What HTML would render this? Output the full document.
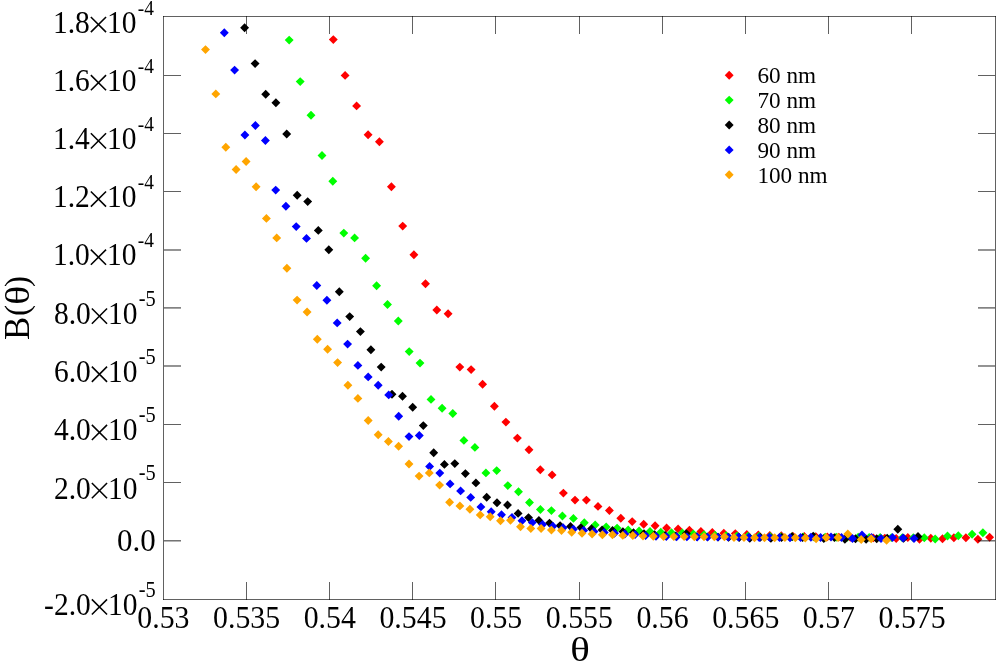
<!DOCTYPE html>
<html><head><meta charset="utf-8"><title>B(theta)</title>
<style>html,body{margin:0;padding:0;background:#fff;}svg{display:block;}body{font-family:"Liberation Serif",serif;}</style>
</head><body>
<svg width="999" height="663" viewBox="0 0 999 663">
<rect x="0" y="0" width="999" height="663" fill="#fff"/>
<path fill="#ff0000" d="M328.85 39.60L333.30 35.15L337.75 39.60L333.30 44.05ZM340.65 75.40L345.10 70.95L349.55 75.40L345.10 79.85ZM352.15 105.90L356.60 101.45L361.05 105.90L356.60 110.35ZM363.65 134.70L368.10 130.25L372.55 134.70L368.10 139.15ZM374.95 141.80L379.40 137.35L383.85 141.80L379.40 146.25ZM386.95 186.80L391.40 182.35L395.85 186.80L391.40 191.25ZM398.25 226.10L402.70 221.65L407.15 226.10L402.70 230.55ZM409.45 254.70L413.90 250.25L418.35 254.70L413.90 259.15ZM421.05 283.70L425.50 279.25L429.95 283.70L425.50 288.15ZM432.35 310.00L436.80 305.55L441.25 310.00L436.80 314.45ZM443.65 313.80L448.10 309.35L452.55 313.80L448.10 318.25ZM455.35 367.10L459.80 362.65L464.25 367.10L459.80 371.55ZM466.65 369.60L471.10 365.15L475.55 369.60L471.10 374.05ZM478.15 384.20L482.60 379.75L487.05 384.20L482.60 388.65ZM489.95 406.20L494.40 401.75L498.85 406.20L494.40 410.65ZM501.45 422.10L505.90 417.65L510.35 422.10L505.90 426.55ZM512.95 438.10L517.40 433.65L521.85 438.10L517.40 442.55ZM524.55 449.80L529.00 445.35L533.45 449.80L529.00 454.25ZM535.85 469.80L540.30 465.35L544.75 469.80L540.30 474.25ZM547.65 474.90L552.10 470.45L556.55 474.90L552.10 479.35ZM558.95 493.10L563.40 488.65L567.85 493.10L563.40 497.55ZM570.55 500.10L575.00 495.65L579.45 500.10L575.00 504.55ZM581.95 500.10L586.40 495.65L590.85 500.10L586.40 504.55ZM593.55 506.40L598.00 501.95L602.45 506.40L598.00 510.85ZM604.95 510.50L609.40 506.05L613.85 510.50L609.40 514.95ZM616.35 518.30L620.80 513.85L625.25 518.30L620.80 522.75ZM627.75 521.60L632.20 517.15L636.65 521.60L632.20 526.05ZM639.25 524.30L643.70 519.85L648.15 524.30L643.70 528.75ZM650.65 525.70L655.10 521.25L659.55 525.70L655.10 530.15ZM662.15 528.00L666.60 523.55L671.05 528.00L666.60 532.45ZM673.65 528.90L678.10 524.45L682.55 528.90L678.10 533.35ZM684.95 530.30L689.40 525.85L693.85 530.30L689.40 534.75ZM696.45 531.50L700.90 527.05L705.35 531.50L700.90 535.95ZM707.85 532.50L712.30 528.05L716.75 532.50L712.30 536.95ZM719.35 533.20L723.80 528.75L728.25 533.20L723.80 537.65ZM730.85 533.60L735.30 529.15L739.75 533.60L735.30 538.05ZM742.35 534.40L746.80 529.95L751.25 534.40L746.80 538.85ZM753.85 535.00L758.30 530.55L762.75 535.00L758.30 539.45ZM765.35 535.50L769.80 531.05L774.25 535.50L769.80 539.95ZM776.85 535.80L781.30 531.35L785.75 535.80L781.30 540.25ZM788.35 536.10L792.80 531.65L797.25 536.10L792.80 540.55ZM799.85 536.40L804.30 531.95L808.75 536.40L804.30 540.85ZM811.35 536.60L815.80 532.15L820.25 536.60L815.80 541.05ZM822.85 536.90L827.30 532.45L831.75 536.90L827.30 541.35ZM834.35 537.10L838.80 532.65L843.25 537.10L838.80 541.55ZM845.85 537.40L850.30 532.95L854.75 537.40L850.30 541.85ZM857.35 537.60L861.80 533.15L866.25 537.60L861.80 542.05ZM868.85 537.90L873.30 533.45L877.75 537.90L873.30 542.35ZM880.35 538.10L884.80 533.65L889.25 538.10L884.80 542.55ZM891.75 538.50L896.20 534.05L900.65 538.50L896.20 542.95ZM903.35 537.50L907.80 533.05L912.25 537.50L907.80 541.95ZM915.05 539.30L919.50 534.85L923.95 539.30L919.50 543.75ZM926.35 538.20L930.80 533.75L935.25 538.20L930.80 542.65ZM938.05 538.70L942.50 534.25L946.95 538.70L942.50 543.15ZM949.45 537.80L953.90 533.35L958.35 537.80L953.90 542.25ZM961.45 537.80L965.90 533.35L970.35 537.80L965.90 542.25ZM973.45 539.30L977.90 534.85L982.35 539.30L977.90 543.75ZM985.15 537.20L989.60 532.75L994.05 537.20L989.60 541.65Z"/>
<path fill="#00ff00" d="M284.75 40.10L289.20 35.65L293.65 40.10L289.20 44.55ZM295.75 81.60L300.20 77.15L304.65 81.60L300.20 86.05ZM306.55 115.20L311.00 110.75L315.45 115.20L311.00 119.65ZM317.55 155.50L322.00 151.05L326.45 155.50L322.00 159.95ZM328.35 181.30L332.80 176.85L337.25 181.30L332.80 185.75ZM339.35 233.10L343.80 228.65L348.25 233.10L343.80 237.55ZM350.15 237.90L354.60 233.45L359.05 237.90L354.60 242.35ZM361.15 258.20L365.60 253.75L370.05 258.20L365.60 262.65ZM372.15 285.80L376.60 281.35L381.05 285.80L376.60 290.25ZM383.05 304.50L387.50 300.05L391.95 304.50L387.50 308.95ZM393.85 321.00L398.30 316.55L402.75 321.00L398.30 325.45ZM404.75 351.60L409.20 347.15L413.65 351.60L409.20 356.05ZM415.55 363.10L420.00 358.65L424.45 363.10L420.00 367.55ZM426.55 399.40L431.00 394.95L435.45 399.40L431.00 403.85ZM437.65 408.20L442.10 403.75L446.55 408.20L442.10 412.65ZM448.35 413.50L452.80 409.05L457.25 413.50L452.80 417.95ZM459.45 440.40L463.90 435.95L468.35 440.40L463.90 444.85ZM470.45 447.40L474.90 442.95L479.35 447.40L474.90 451.85ZM481.45 472.90L485.90 468.45L490.35 472.90L485.90 477.35ZM492.25 470.60L496.70 466.15L501.15 470.60L496.70 475.05ZM503.35 485.60L507.80 481.15L512.25 485.60L507.80 490.05ZM514.05 491.70L518.50 487.25L522.95 491.70L518.50 496.15ZM525.05 502.50L529.50 498.05L533.95 502.50L529.50 506.95ZM535.95 509.50L540.40 505.05L544.85 509.50L540.40 513.95ZM546.95 510.60L551.40 506.15L555.85 510.60L551.40 515.05ZM557.95 516.00L562.40 511.55L566.85 516.00L562.40 520.45ZM568.95 518.40L573.40 513.95L577.85 518.40L573.40 522.85ZM579.85 522.70L584.30 518.25L588.75 522.70L584.30 527.15ZM590.75 524.90L595.20 520.45L599.65 524.90L595.20 529.35ZM601.75 527.00L606.20 522.55L610.65 527.00L606.20 531.45ZM612.65 528.10L617.10 523.65L621.55 528.10L617.10 532.55ZM623.75 529.90L628.20 525.45L632.65 529.90L628.20 534.35ZM634.65 530.90L639.10 526.45L643.55 530.90L639.10 535.35ZM645.55 531.50L650.00 527.05L654.45 531.50L650.00 535.95ZM656.35 532.30L660.80 527.85L665.25 532.30L660.80 536.75ZM667.05 532.80L671.50 528.35L675.95 532.80L671.50 537.25ZM677.85 532.90L682.30 528.45L686.75 532.90L682.30 537.35ZM688.85 534.00L693.30 529.55L697.75 534.00L693.30 538.45ZM699.55 534.80L704.00 530.35L708.45 534.80L704.00 539.25ZM710.55 535.20L715.00 530.75L719.45 535.20L715.00 539.65ZM721.55 535.60L726.00 531.15L730.45 535.60L726.00 540.05ZM732.55 535.90L737.00 531.45L741.45 535.90L737.00 540.35ZM743.55 536.10L748.00 531.65L752.45 536.10L748.00 540.55ZM754.65 536.30L759.10 531.85L763.55 536.30L759.10 540.75ZM765.65 536.50L770.10 532.05L774.55 536.50L770.10 540.95ZM776.65 536.70L781.10 532.25L785.55 536.70L781.10 541.15ZM787.65 536.80L792.10 532.35L796.55 536.80L792.10 541.25ZM798.65 536.90L803.10 532.45L807.55 536.90L803.10 541.35ZM809.65 537.00L814.10 532.55L818.55 537.00L814.10 541.45ZM820.75 537.10L825.20 532.65L829.65 537.10L825.20 541.55ZM831.75 537.20L836.20 532.75L840.65 537.20L836.20 541.65ZM842.75 537.30L847.20 532.85L851.65 537.30L847.20 541.75ZM853.75 537.30L858.20 532.85L862.65 537.30L858.20 541.75ZM864.75 537.40L869.20 532.95L873.65 537.40L869.20 541.85ZM875.75 537.50L880.20 533.05L884.65 537.50L880.20 541.95ZM886.85 537.60L891.30 533.15L895.75 537.60L891.30 542.05ZM897.85 537.70L902.30 533.25L906.75 537.70L902.30 542.15ZM908.85 537.80L913.30 533.35L917.75 537.80L913.30 542.25ZM919.85 537.80L924.30 533.35L928.75 537.80L924.30 542.25ZM930.75 539.00L935.20 534.55L939.65 539.00L935.20 543.45ZM943.05 536.00L947.50 531.55L951.95 536.00L947.50 540.45ZM953.85 535.70L958.30 531.25L962.75 535.70L958.30 540.15ZM967.65 534.30L972.10 529.85L976.55 534.30L972.10 538.75ZM978.45 532.80L982.90 528.35L987.35 532.80L982.90 537.25Z"/>
<path fill="#000000" d="M240.15 27.80L244.60 23.35L249.05 27.80L244.60 32.25ZM250.65 63.60L255.10 59.15L259.55 63.60L255.10 68.05ZM261.25 94.20L265.70 89.75L270.15 94.20L265.70 98.65ZM271.45 102.70L275.90 98.25L280.35 102.70L275.90 107.15ZM282.25 134.00L286.70 129.55L291.15 134.00L286.70 138.45ZM292.75 195.30L297.20 190.85L301.65 195.30L297.20 199.75ZM303.25 201.60L307.70 197.15L312.15 201.60L307.70 206.05ZM313.85 230.40L318.30 225.95L322.75 230.40L318.30 234.85ZM324.35 249.70L328.80 245.25L333.25 249.70L328.80 254.15ZM334.85 291.80L339.30 287.35L343.75 291.80L339.30 296.25ZM345.25 316.60L349.70 312.15L354.15 316.60L349.70 321.05ZM355.95 331.60L360.40 327.15L364.85 331.60L360.40 336.05ZM366.45 349.80L370.90 345.35L375.35 349.80L370.90 354.25ZM376.75 367.10L381.20 362.65L385.65 367.10L381.20 371.55ZM387.55 394.20L392.00 389.75L396.45 394.20L392.00 398.65ZM398.05 396.20L402.50 391.75L406.95 396.20L402.50 400.65ZM408.25 407.20L412.70 402.75L417.15 407.20L412.70 411.65ZM418.85 425.60L423.30 421.15L427.75 425.60L423.30 430.05ZM429.25 452.80L433.70 448.35L438.15 452.80L433.70 457.25ZM439.95 464.40L444.40 459.95L448.85 464.40L444.40 468.85ZM450.35 463.60L454.80 459.15L459.25 463.60L454.80 468.05ZM460.95 473.60L465.40 469.15L469.85 473.60L465.40 478.05ZM471.45 482.90L475.90 478.45L480.35 482.90L475.90 487.35ZM482.25 497.20L486.70 492.75L491.15 497.20L486.70 501.65ZM492.55 502.70L497.00 498.25L501.45 502.70L497.00 507.15ZM503.05 505.00L507.50 500.55L511.95 505.00L507.50 509.45ZM513.65 513.40L518.10 508.95L522.55 513.40L518.10 517.85ZM524.05 517.60L528.50 513.15L532.95 517.60L528.50 522.05ZM534.45 520.40L538.90 515.95L543.35 520.40L538.90 524.85ZM545.05 523.10L549.50 518.65L553.95 523.10L549.50 527.55ZM555.65 525.60L560.10 521.15L564.55 525.60L560.10 530.05ZM566.05 526.40L570.50 521.95L574.95 526.40L570.50 530.85ZM576.45 527.60L580.90 523.15L585.35 527.60L580.90 532.05ZM587.05 528.80L591.50 524.35L595.95 528.80L591.50 533.25ZM597.65 530.00L602.10 525.55L606.55 530.00L602.10 534.45ZM608.05 530.40L612.50 525.95L616.95 530.40L612.50 534.85ZM618.45 531.60L622.90 527.15L627.35 531.60L622.90 536.05ZM629.05 532.70L633.50 528.25L637.95 532.70L633.50 537.15ZM639.55 533.80L644.00 529.35L648.45 533.80L644.00 538.25ZM650.15 534.80L654.60 530.35L659.05 534.80L654.60 539.25ZM660.75 535.50L665.20 531.05L669.65 535.50L665.20 539.95ZM671.35 536.00L675.80 531.55L680.25 536.00L675.80 540.45ZM681.85 533.60L686.30 529.15L690.75 533.60L686.30 538.05ZM692.45 536.60L696.90 532.15L701.35 536.60L696.90 541.05ZM703.05 536.90L707.50 532.45L711.95 536.90L707.50 541.35ZM713.65 537.10L718.10 532.65L722.55 537.10L718.10 541.55ZM724.15 537.30L728.60 532.85L733.05 537.30L728.60 541.75ZM734.75 537.50L739.20 533.05L743.65 537.50L739.20 541.95ZM745.35 538.30L749.80 533.85L754.25 538.30L749.80 542.75ZM755.85 537.40L760.30 532.95L764.75 537.40L760.30 541.85ZM766.45 538.40L770.90 533.95L775.35 538.40L770.90 542.85ZM777.05 537.50L781.50 533.05L785.95 537.50L781.50 541.95ZM787.65 536.60L792.10 532.15L796.55 536.60L792.10 541.05ZM798.15 537.60L802.60 533.15L807.05 537.60L802.60 542.05ZM808.75 536.20L813.20 531.75L817.65 536.20L813.20 540.65ZM819.35 538.60L823.80 534.15L828.25 538.60L823.80 543.05ZM829.95 537.60L834.40 533.15L838.85 537.60L834.40 542.05ZM840.45 539.20L844.90 534.75L849.35 539.20L844.90 543.65ZM851.05 538.80L855.50 534.35L859.95 538.80L855.50 543.25ZM861.65 539.20L866.10 534.75L870.55 539.20L866.10 543.65ZM872.25 538.80L876.70 534.35L881.15 538.80L876.70 543.25ZM882.75 538.20L887.20 533.75L891.65 538.20L887.20 542.65ZM893.35 529.30L897.80 524.85L902.25 529.30L897.80 533.75ZM899.15 538.20L903.60 533.75L908.05 538.20L903.60 542.65ZM913.55 536.50L918.00 532.05L922.45 536.50L918.00 540.95Z"/>
<path fill="#0000ff" d="M219.85 32.80L224.30 28.35L228.75 32.80L224.30 37.25ZM230.15 70.10L234.60 65.65L239.05 70.10L234.60 74.55ZM240.45 135.00L244.90 130.55L249.35 135.00L244.90 139.45ZM250.95 125.50L255.40 121.05L259.85 125.50L255.40 129.95ZM260.95 140.50L265.40 136.05L269.85 140.50L265.40 144.95ZM271.25 190.10L275.70 185.65L280.15 190.10L275.70 194.55ZM281.45 206.30L285.90 201.85L290.35 206.30L285.90 210.75ZM291.75 226.60L296.20 222.15L300.65 226.60L296.20 231.05ZM302.05 238.40L306.50 233.95L310.95 238.40L306.50 242.85ZM312.35 285.50L316.80 281.05L321.25 285.50L316.80 289.95ZM322.45 300.20L326.90 295.75L331.35 300.20L326.90 304.65ZM332.75 322.90L337.20 318.45L341.65 322.90L337.20 327.35ZM343.15 344.10L347.60 339.65L352.05 344.10L347.60 348.55ZM353.45 365.40L357.90 360.95L362.35 365.40L357.90 369.85ZM363.75 376.90L368.20 372.45L372.65 376.90L368.20 381.35ZM373.75 385.20L378.20 380.75L382.65 385.20L378.20 389.65ZM384.25 394.90L388.70 390.45L393.15 394.90L388.70 399.35ZM394.25 416.20L398.70 411.75L403.15 416.20L398.70 420.65ZM404.55 436.60L409.00 432.15L413.45 436.60L409.00 441.05ZM414.85 435.50L419.30 431.05L423.75 435.50L419.30 439.95ZM425.15 466.50L429.60 462.05L434.05 466.50L429.60 470.95ZM435.35 473.10L439.80 468.65L444.25 473.10L439.80 477.55ZM445.65 483.90L450.10 479.45L454.55 483.90L450.10 488.35ZM456.15 490.90L460.60 486.45L465.05 490.90L460.60 495.35ZM466.25 497.40L470.70 492.95L475.15 497.40L470.70 501.85ZM476.45 506.90L480.90 502.45L485.35 506.90L480.90 511.35ZM486.75 511.70L491.20 507.25L495.65 511.70L491.20 516.15ZM497.05 514.80L501.50 510.35L505.95 514.80L501.50 519.25ZM507.55 517.50L512.00 513.05L516.45 517.50L512.00 521.95ZM517.55 520.70L522.00 516.25L526.45 520.70L522.00 525.15ZM527.85 522.60L532.30 518.15L536.75 522.60L532.30 527.05ZM538.15 524.50L542.60 520.05L547.05 524.50L542.60 528.95ZM548.45 526.20L552.90 521.75L557.35 526.20L552.90 530.65ZM558.65 527.80L563.10 523.35L567.55 527.80L563.10 532.25ZM568.95 529.20L573.40 524.75L577.85 529.20L573.40 533.65ZM579.25 530.40L583.70 525.95L588.15 530.40L583.70 534.85ZM589.55 531.50L594.00 527.05L598.45 531.50L594.00 535.95ZM599.75 532.50L604.20 528.05L608.65 532.50L604.20 536.95ZM610.05 533.30L614.50 528.85L618.95 533.30L614.50 537.75ZM620.35 534.00L624.80 529.55L629.25 534.00L624.80 538.45ZM630.65 534.60L635.10 530.15L639.55 534.60L635.10 539.05ZM641.15 535.60L645.60 531.15L650.05 535.60L645.60 540.05ZM651.55 536.30L656.00 531.85L660.45 536.30L656.00 540.75ZM661.85 536.60L666.30 532.15L670.75 536.60L666.30 541.05ZM672.15 536.80L676.60 532.35L681.05 536.80L676.60 541.25ZM682.45 536.90L686.90 532.45L691.35 536.90L686.90 541.35ZM692.75 537.00L697.20 532.55L701.65 537.00L697.20 541.45ZM703.05 537.10L707.50 532.65L711.95 537.10L707.50 541.55ZM713.35 537.10L717.80 532.65L722.25 537.10L717.80 541.55ZM723.65 537.10L728.10 532.65L732.55 537.10L728.10 541.55ZM734.05 537.00L738.50 532.55L742.95 537.00L738.50 541.45ZM744.35 537.20L748.80 532.75L753.25 537.20L748.80 541.65ZM754.75 537.50L759.20 533.05L763.65 537.50L759.20 541.95ZM765.05 537.20L769.50 532.75L773.95 537.20L769.50 541.65ZM775.05 537.50L779.50 533.05L783.95 537.50L779.50 541.95ZM785.55 537.80L790.00 533.35L794.45 537.80L790.00 542.25ZM796.15 537.50L800.60 533.05L805.05 537.50L800.60 541.95ZM806.45 537.20L810.90 532.75L815.35 537.20L810.90 541.65ZM816.15 537.50L820.60 533.05L825.05 537.50L820.60 541.95ZM826.55 537.00L831.00 532.55L835.45 537.00L831.00 541.45ZM837.05 537.50L841.50 533.05L845.95 537.50L841.50 541.95ZM848.05 538.50L852.50 534.05L856.95 538.50L852.50 542.95ZM857.55 535.00L862.00 530.55L866.45 535.00L862.00 539.45ZM867.05 537.50L871.50 533.05L875.95 537.50L871.50 541.95ZM876.55 538.50L881.00 534.05L885.45 538.50L881.00 542.95ZM888.05 537.50L892.50 533.05L896.95 537.50L892.50 541.95ZM898.55 538.00L903.00 533.55L907.45 538.00L903.00 542.45ZM909.55 538.50L914.00 534.05L918.45 538.50L914.00 542.95Z"/>
<path fill="#ffa500" d="M201.05 49.60L205.50 45.15L209.95 49.60L205.50 54.05ZM211.35 93.90L215.80 89.45L220.25 93.90L215.80 98.35ZM221.35 147.30L225.80 142.85L230.25 147.30L225.80 151.75ZM231.65 169.50L236.10 165.05L240.55 169.50L236.10 173.95ZM241.65 161.50L246.10 157.05L250.55 161.50L246.10 165.95ZM251.65 186.80L256.10 182.35L260.55 186.80L256.10 191.25ZM261.95 218.40L266.40 213.95L270.85 218.40L266.40 222.85ZM272.25 237.90L276.70 233.45L281.15 237.90L276.70 242.35ZM282.45 268.20L286.90 263.75L291.35 268.20L286.90 272.65ZM292.65 300.10L297.10 295.65L301.55 300.10L297.10 304.55ZM302.65 312.00L307.10 307.55L311.55 312.00L307.10 316.45ZM312.85 339.30L317.30 334.85L321.75 339.30L317.30 343.75ZM323.15 349.30L327.60 344.85L332.05 349.30L327.60 353.75ZM333.15 362.60L337.60 358.15L342.05 362.60L337.60 367.05ZM343.45 385.20L347.90 380.75L352.35 385.20L347.90 389.65ZM353.45 398.40L357.90 393.95L362.35 398.40L357.90 402.85ZM363.75 420.50L368.20 416.05L372.65 420.50L368.20 424.95ZM373.75 434.80L378.20 430.35L382.65 434.80L378.20 439.25ZM383.95 441.50L388.40 437.05L392.85 441.50L388.40 445.95ZM394.15 446.30L398.60 441.85L403.05 446.30L398.60 450.75ZM404.55 464.00L409.00 459.55L413.45 464.00L409.00 468.45ZM414.65 476.10L419.10 471.65L423.55 476.10L419.10 480.55ZM424.85 472.90L429.30 468.45L433.75 472.90L429.30 477.35ZM435.15 485.10L439.60 480.65L444.05 485.10L439.60 489.55ZM445.15 502.20L449.60 497.75L454.05 502.20L449.60 506.65ZM455.45 505.90L459.90 501.45L464.35 505.90L459.90 510.35ZM465.45 509.20L469.90 504.75L474.35 509.20L469.90 513.65ZM475.75 514.90L480.20 510.45L484.65 514.90L480.20 519.35ZM485.75 516.70L490.20 512.25L494.65 516.70L490.20 521.15ZM496.05 520.80L500.50 516.35L504.95 520.80L500.50 525.25ZM506.05 520.30L510.50 515.85L514.95 520.30L510.50 524.75ZM516.05 526.70L520.50 522.25L524.95 526.70L520.50 531.15ZM526.35 528.50L530.80 524.05L535.25 528.50L530.80 532.95ZM536.65 528.50L541.10 524.05L545.55 528.50L541.10 532.95ZM546.95 530.10L551.40 525.65L555.85 530.10L551.40 534.55ZM557.05 530.50L561.50 526.05L565.95 530.50L561.50 534.95ZM567.25 532.20L571.70 527.75L576.15 532.20L571.70 536.65ZM577.55 533.20L582.00 528.75L586.45 533.20L582.00 537.65ZM587.65 534.00L592.10 529.55L596.55 534.00L592.10 538.45ZM597.95 534.80L602.40 530.35L606.85 534.80L602.40 539.25ZM608.05 534.80L612.50 530.35L616.95 534.80L612.50 539.25ZM618.35 535.40L622.80 530.95L627.25 535.40L622.80 539.85ZM628.35 535.50L632.80 531.05L637.25 535.50L632.80 539.95ZM638.55 536.00L643.00 531.55L647.45 536.00L643.00 540.45ZM648.85 536.30L653.30 531.85L657.75 536.30L653.30 540.75ZM659.15 536.60L663.60 532.15L668.05 536.60L663.60 541.05ZM669.35 536.60L673.80 532.15L678.25 536.60L673.80 541.05ZM679.65 536.60L684.10 532.15L688.55 536.60L684.10 541.05ZM689.85 536.80L694.30 532.35L698.75 536.80L694.30 541.25ZM699.55 536.80L704.00 532.35L708.45 536.80L704.00 541.25ZM709.85 536.80L714.30 532.35L718.75 536.80L714.30 541.25ZM719.95 536.80L724.40 532.35L728.85 536.80L724.40 541.25ZM729.55 537.50L734.00 533.05L738.45 537.50L734.00 541.95ZM739.55 537.50L744.00 533.05L748.45 537.50L744.00 541.95ZM750.05 537.80L754.50 533.35L758.95 537.80L754.50 542.25ZM760.05 537.80L764.50 533.35L768.95 537.80L764.50 542.25ZM770.25 537.80L774.70 533.35L779.15 537.80L774.70 542.25ZM780.45 537.50L784.90 533.05L789.35 537.50L784.90 541.95ZM790.85 537.80L795.30 533.35L799.75 537.80L795.30 542.25ZM800.85 538.00L805.30 533.55L809.75 538.00L805.30 542.45ZM811.65 538.80L816.10 534.35L820.55 538.80L816.10 543.25ZM821.65 537.50L826.10 533.05L830.55 537.50L826.10 541.95ZM833.55 537.50L838.00 533.05L842.45 537.50L838.00 541.95ZM843.35 534.00L847.80 529.55L852.25 534.00L847.80 538.45ZM856.75 539.50L861.20 535.05L865.65 539.50L861.20 543.95ZM866.75 538.70L871.20 534.25L875.65 538.70L871.20 543.15ZM882.15 540.20L886.60 535.75L891.05 540.20L886.60 544.65Z"/>
<g fill="#000" fill-opacity="0.62" shape-rendering="crispEdges"><rect x="163" y="16" width="833" height="1"/><rect x="163" y="599" width="833" height="1"/><rect x="163" y="16" width="1" height="584"/><rect x="995" y="16" width="1" height="584"/><rect x="246" y="16" width="1" height="18"/><rect x="246" y="582" width="1" height="18"/><rect x="329" y="16" width="1" height="18"/><rect x="329" y="582" width="1" height="18"/><rect x="412" y="16" width="1" height="18"/><rect x="412" y="582" width="1" height="18"/><rect x="495" y="16" width="1" height="18"/><rect x="495" y="582" width="1" height="18"/><rect x="579" y="16" width="1" height="18"/><rect x="579" y="582" width="1" height="18"/><rect x="662" y="16" width="1" height="18"/><rect x="662" y="582" width="1" height="18"/><rect x="745" y="16" width="1" height="18"/><rect x="745" y="582" width="1" height="18"/><rect x="828" y="16" width="1" height="18"/><rect x="828" y="582" width="1" height="18"/><rect x="911" y="16" width="1" height="18"/><rect x="911" y="582" width="1" height="18"/></g>
<g fill="#000" fill-opacity="0.62"><rect x="164" y="75.00" width="17" height="1.0"/><rect x="978" y="75.00" width="17" height="1.0"/><rect x="164" y="133.00" width="17" height="1.0"/><rect x="978" y="133.00" width="17" height="1.0"/><rect x="164" y="191.00" width="17" height="1.0"/><rect x="978" y="191.00" width="17" height="1.0"/><rect x="164" y="249.32" width="17" height="1.35"/><rect x="978" y="249.32" width="17" height="1.35"/><rect x="164" y="307.22" width="17" height="1.35"/><rect x="978" y="307.22" width="17" height="1.35"/><rect x="164" y="365.32" width="17" height="1.35"/><rect x="978" y="365.32" width="17" height="1.35"/><rect x="164" y="424.00" width="17" height="1.0"/><rect x="978" y="424.00" width="17" height="1.0"/><rect x="164" y="482.00" width="17" height="1.0"/><rect x="978" y="482.00" width="17" height="1.0"/><rect x="164" y="540.12" width="17" height="1.35"/><rect x="978" y="540.12" width="17" height="1.35"/></g>
<path fill="#ff0000" d="M724.75 75.20L729.20 70.75L733.65 75.20L729.20 79.65Z"/>
<path fill="#00ff00" d="M724.75 100.10L729.20 95.65L733.65 100.10L729.20 104.55Z"/>
<path fill="#000000" d="M724.75 125.00L729.20 120.55L733.65 125.00L729.20 129.45Z"/>
<path fill="#0000ff" d="M724.75 149.90L729.20 145.45L733.65 149.90L729.20 154.35Z"/>
<path fill="#ffa500" d="M724.75 174.80L729.20 170.35L733.65 174.80L729.20 179.25Z"/>
<g font-family="'Liberation Serif', serif" fill="#000" opacity="0.999"><text transform="translate(136.60 32.60) scale(1 1.072)" font-size="29.5" text-anchor="end">10</text><text transform="translate(89.80 32.60) scale(1 1.072)" font-size="29.5" text-anchor="end">1.8</text><path d="M90.85 16.95L106.05 32.15M90.85 32.15L106.05 16.95" stroke="#000" stroke-width="1.55" fill="none"/><text transform="translate(153.90 14.70) scale(1 1.12)" font-size="19.4" text-anchor="end">-4</text><text transform="translate(136.60 90.76) scale(1 1.072)" font-size="29.5" text-anchor="end">10</text><text transform="translate(89.80 90.76) scale(1 1.072)" font-size="29.5" text-anchor="end">1.6</text><path d="M90.85 75.11L106.05 90.31M90.85 90.31L106.05 75.11" stroke="#000" stroke-width="1.55" fill="none"/><text transform="translate(153.90 72.86) scale(1 1.12)" font-size="19.4" text-anchor="end">-4</text><text transform="translate(136.60 148.93) scale(1 1.072)" font-size="29.5" text-anchor="end">10</text><text transform="translate(89.80 148.93) scale(1 1.072)" font-size="29.5" text-anchor="end">1.4</text><path d="M90.85 133.28L106.05 148.48M90.85 148.48L106.05 133.28" stroke="#000" stroke-width="1.55" fill="none"/><text transform="translate(153.90 131.03) scale(1 1.12)" font-size="19.4" text-anchor="end">-4</text><text transform="translate(136.60 207.10) scale(1 1.072)" font-size="29.5" text-anchor="end">10</text><text transform="translate(89.80 207.10) scale(1 1.072)" font-size="29.5" text-anchor="end">1.2</text><path d="M90.85 191.45L106.05 206.65M90.85 206.65L106.05 191.45" stroke="#000" stroke-width="1.55" fill="none"/><text transform="translate(153.90 189.20) scale(1 1.12)" font-size="19.4" text-anchor="end">-4</text><text transform="translate(136.60 265.27) scale(1 1.072)" font-size="29.5" text-anchor="end">10</text><text transform="translate(89.80 265.27) scale(1 1.072)" font-size="29.5" text-anchor="end">1.0</text><path d="M90.85 249.62L106.05 264.82M90.85 264.82L106.05 249.62" stroke="#000" stroke-width="1.55" fill="none"/><text transform="translate(153.90 247.37) scale(1 1.12)" font-size="19.4" text-anchor="end">-4</text><text transform="translate(137.60 324.14) scale(1 1.072)" font-size="29.5" text-anchor="end">10</text><text transform="translate(90.80 324.14) scale(1 1.072)" font-size="29.5" text-anchor="end">8.0</text><path d="M91.85 308.49L107.05 323.69M91.85 323.69L107.05 308.49" stroke="#000" stroke-width="1.55" fill="none"/><text transform="translate(155.70 305.89) scale(1 1.12)" font-size="20.4" text-anchor="end">-5</text><text transform="translate(137.60 382.31) scale(1 1.072)" font-size="29.5" text-anchor="end">10</text><text transform="translate(90.80 382.31) scale(1 1.072)" font-size="29.5" text-anchor="end">6.0</text><path d="M91.85 366.66L107.05 381.86M91.85 381.86L107.05 366.66" stroke="#000" stroke-width="1.55" fill="none"/><text transform="translate(155.70 364.06) scale(1 1.12)" font-size="20.4" text-anchor="end">-5</text><text transform="translate(137.60 440.48) scale(1 1.072)" font-size="29.5" text-anchor="end">10</text><text transform="translate(90.80 440.48) scale(1 1.072)" font-size="29.5" text-anchor="end">4.0</text><path d="M91.85 424.83L107.05 440.03M91.85 440.03L107.05 424.83" stroke="#000" stroke-width="1.55" fill="none"/><text transform="translate(155.70 422.23) scale(1 1.12)" font-size="20.4" text-anchor="end">-5</text><text transform="translate(137.60 498.65) scale(1 1.072)" font-size="29.5" text-anchor="end">10</text><text transform="translate(90.80 498.65) scale(1 1.072)" font-size="29.5" text-anchor="end">2.0</text><path d="M91.85 483.00L107.05 498.20M91.85 498.20L107.05 483.00" stroke="#000" stroke-width="1.55" fill="none"/><text transform="translate(155.70 480.40) scale(1 1.12)" font-size="20.4" text-anchor="end">-5</text><text transform="translate(137.60 615.00) scale(1 1.072)" font-size="29.5" text-anchor="end">10</text><text transform="translate(90.80 615.00) scale(1 1.072)" font-size="29.5" text-anchor="end">-2.0</text><path d="M91.85 599.35L107.05 614.55M91.85 614.55L107.05 599.35" stroke="#000" stroke-width="1.55" fill="none"/><text transform="translate(155.70 596.75) scale(1 1.12)" font-size="20.4" text-anchor="end">-5</text><text transform="translate(155.80 550.70) scale(1.05 1.072)" font-size="29.5" text-anchor="end">0.0</text><text transform="translate(163.40 627.80) scale(1.012 1.072)" font-size="29.5" text-anchor="middle">0.53</text><text transform="translate(246.59 627.80) scale(1.012 1.072)" font-size="29.5" text-anchor="middle">0.535</text><text transform="translate(329.78 627.80) scale(1.012 1.072)" font-size="29.5" text-anchor="middle">0.54</text><text transform="translate(412.97 627.80) scale(1.012 1.072)" font-size="29.5" text-anchor="middle">0.545</text><text transform="translate(496.16 627.80) scale(1.012 1.072)" font-size="29.5" text-anchor="middle">0.55</text><text transform="translate(579.35 627.80) scale(1.012 1.072)" font-size="29.5" text-anchor="middle">0.555</text><text transform="translate(662.54 627.80) scale(1.012 1.072)" font-size="29.5" text-anchor="middle">0.56</text><text transform="translate(745.73 627.80) scale(1.012 1.072)" font-size="29.5" text-anchor="middle">0.565</text><text transform="translate(828.92 627.80) scale(1.012 1.072)" font-size="29.5" text-anchor="middle">0.57</text><text transform="translate(912.11 627.80) scale(1.012 1.072)" font-size="29.5" text-anchor="middle">0.575</text><text transform="translate(580.00 661.30) scale(1.22 1.0)" font-size="33.5" text-anchor="middle">θ</text><text transform="translate(28.95 339.90) rotate(-90) scale(1 1.046)" font-size="34.7" text-anchor="start">B</text><text transform="translate(28.30 315.90) rotate(-90) scale(1 1.03)" font-size="33" text-anchor="start">(</text><text transform="translate(28.70 304.80) rotate(-90) scale(1.2 1.0)" font-size="33" text-anchor="start">θ</text><text transform="translate(28.30 287.10) rotate(-90) scale(1 1.03)" font-size="33" text-anchor="start">)</text><text transform="translate(757.40 83.00) scale(1 1.04)" font-size="23.2" text-anchor="start">60 nm</text><text transform="translate(757.40 107.90) scale(1 1.04)" font-size="23.2" text-anchor="start">70 nm</text><text transform="translate(757.40 132.80) scale(1 1.04)" font-size="23.2" text-anchor="start">80 nm</text><text transform="translate(757.40 157.70) scale(1 1.04)" font-size="23.2" text-anchor="start">90 nm</text><text transform="translate(757.40 182.60) scale(1 1.04)" font-size="23.2" text-anchor="start">100 nm</text></g>
</svg>
</body></html>
